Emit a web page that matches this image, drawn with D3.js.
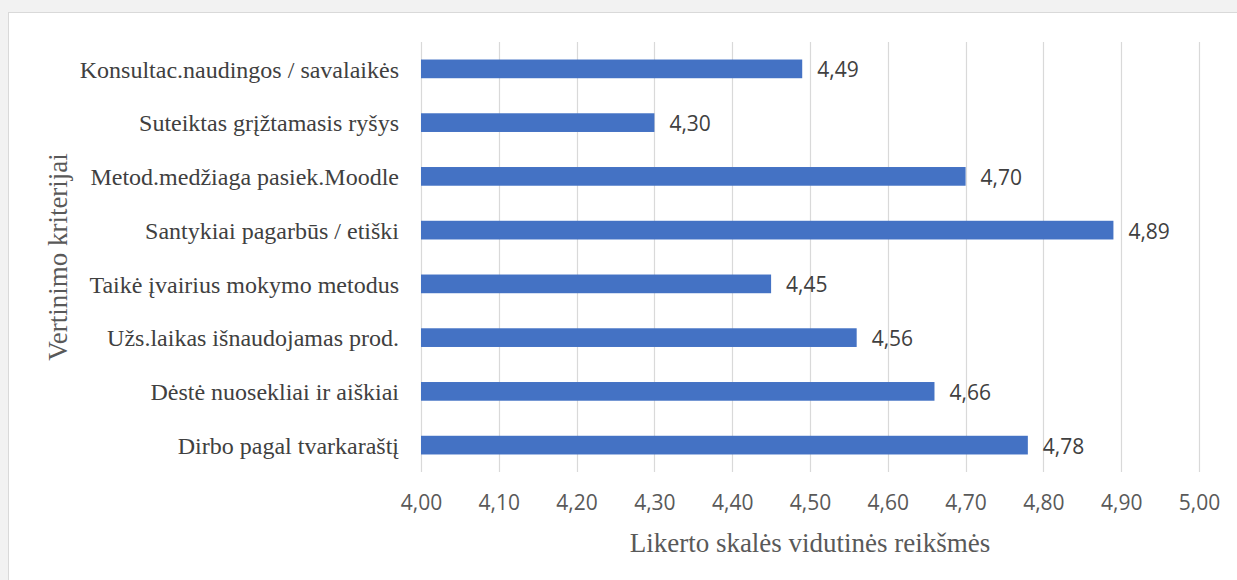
<!DOCTYPE html>
<html>
<head>
<meta charset="utf-8">
<script src="https://cdn.jsdelivr.net/npm/d3@7"></script>
<style>
  html, body { margin: 0; padding: 0; background: #f2f2f2; }
  svg { display: block; }
</style>
</head>
<body>
<div id="chart"></div>
<script>
// criteria (top to bottom) and their mean Likert values
var categories = [
    'Konsultac.naudingos / savalaikės',
    'Suteiktas grįžtamasis ryšys',
    'Metod.medžiaga pasiek.Moodle',
    'Santykiai pagarbūs / etiški',
    'Taikė įvairius mokymo metodus',
    'Užs.laikas išnaudojamas prod.',
    'Dėstė nuosekliai ir aiškiai',
    'Dirbo pagal tvarkaraštį'
];
var values = [4.49, 4.30, 4.70, 4.89, 4.45, 4.56, 4.66, 4.78];
var xTicks = [4.0, 4.1, 4.2, 4.3, 4.4, 4.5, 4.6, 4.7, 4.8, 4.9, 5.0];
var xTitle = 'Likerto skalės vidutinės reikšmės';
var yTitle = 'Vertinimo kriterijai';

var width = 1237, height = 580;
var plot = { left: 421, right: 1199, top: 42, bottom: 472 };
var serif = '"Liberation Serif", "Times New Roman", serif';
var sans = '"Open Sans", sans-serif';

var fmt = function(v) { return d3.format('.2f')(v).replace('.', ','); };

var svg = d3.select('#chart').append('svg')
    .attr('width', width)
    .attr('height', height);

// chart frame
svg.append('rect')
    .attr('x', 8.5).attr('y', 12.5)
    .attr('width', width).attr('height', height)
    .attr('fill', '#ffffff')
    .attr('stroke', '#d9d9d9')
    .attr('stroke-width', 1);

var x = d3.scaleLinear()
    .domain([4, 5])
    .range([plot.left, plot.right]);

var y = d3.scaleBand()
    .domain(categories)
    .range([plot.top, plot.bottom])
    .paddingInner(0.652)
    .paddingOuter(0.326);

// vertical gridlines
svg.append('g').selectAll('line')
    .data(xTicks).enter()
    .append('line')
    .attr('x1', function(d) { return Math.round(x(d)) + 0.5; })
    .attr('x2', function(d) { return Math.round(x(d)) + 0.5; })
    .attr('y1', plot.top)
    .attr('y2', plot.bottom)
    .attr('stroke', '#d9d9d9')
    .attr('stroke-width', 1.2);

// x tick labels
var xAxis = d3.axisBottom(x)
    .tickValues(xTicks)
    .tickSize(0)
    .tickPadding(0)
    .tickFormat(fmt);

var gx = svg.append('g')
    .attr('transform', 'translate(0,' + plot.bottom + ')')
    .call(xAxis);
gx.select('.domain').remove();
gx.selectAll('text')
    .attr('y', 38)
    .attr('dy', 0)
    .attr('fill', '#595959')
    .style('font-family', sans)
    .style('font-size', '21px');

// category labels
var yAxis = d3.axisLeft(y).tickSize(0).tickPadding(0);
var gy = svg.append('g')
    .attr('transform', 'translate(399,0)')
    .call(yAxis);
gy.select('.domain').remove();
gy.selectAll('text')
    .attr('dy', '0.36em')
    .attr('fill', '#404040')
    .style('font-family', serif)
    .style('font-size', '24px');

// bars
svg.append('g').selectAll('rect')
    .data(values).enter()
    .append('rect')
    .attr('x', x(4))
    .attr('y', function(d, i) { return y(categories[i]); })
    .attr('width', function(d) { return x(d) - x(4); })
    .attr('height', y.bandwidth())
    .attr('fill', '#4472c4');

// value labels
svg.append('g').selectAll('text')
    .data(values).enter()
    .append('text')
    .attr('x', function(d) { return x(d) + 15; })
    .attr('y', function(d, i) { return y(categories[i]) + y.bandwidth() / 2; })
    .attr('dy', '0.4em')
    .attr('fill', '#404040')
    .style('font-family', sans)
    .style('font-size', '21px')
    .text(fmt);

// axis titles
svg.append('text')
    .attr('x', (plot.left + plot.right) / 2)
    .attr('y', 552)
    .attr('text-anchor', 'middle')
    .attr('fill', '#595959')
    .style('font-family', serif)
    .style('font-size', '27px')
    .text(xTitle);

svg.append('text')
    .attr('transform', 'translate(67,' + (plot.top + plot.bottom) / 2 + ') rotate(-90)')
    .attr('text-anchor', 'middle')
    .attr('fill', '#595959')
    .style('font-family', serif)
    .style('font-size', '27px')
    .text(yTitle);
</script>
</body>
</html>
